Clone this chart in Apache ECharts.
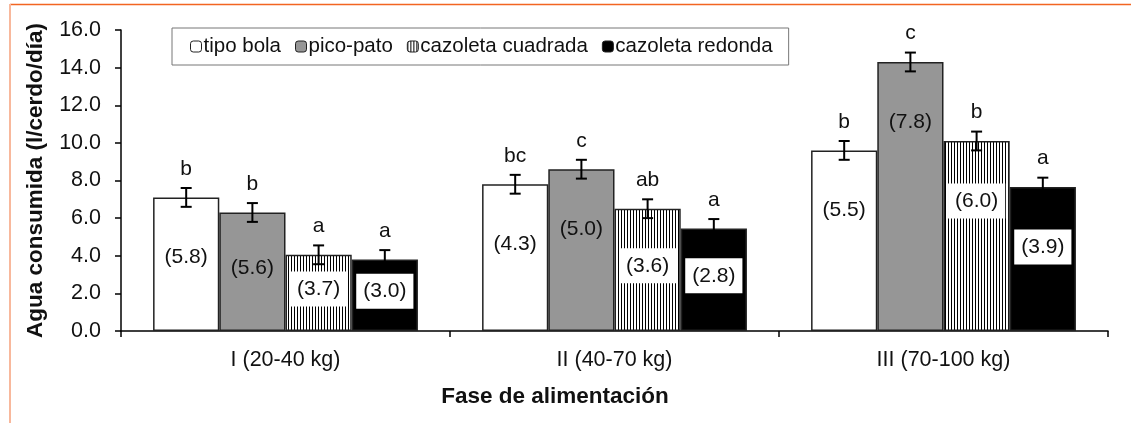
<!DOCTYPE html>
<html>
<head>
<meta charset="utf-8">
<script src="https://cdn.jsdelivr.net/npm/echarts@6/dist/echarts.min.js"></script>
<style>
html,body{margin:0;padding:0;background:#fff;}
#c{width:1131px;height:423px;}
</style>
</head>
<body>
<div id="c"></div>
<script>
// ---- data ----
const categories = ['I (20-40 kg)', 'II (40-70 kg)', 'III (70-100 kg)'];
const seriesNames = ['tipo bola', 'pico-pato', 'cazoleta cuadrada', 'cazoleta redonda'];
const tipoBola = [7.1, 7.8, 9.6];
const picoPato = [6.3, 8.6, 14.3];
const cazCuadrada = [4.05, 6.5, 10.1];
const cazRedonda = [3.8, 5.45, 7.65];
const errTipoBola = [0.5, 0.5, 0.5];
const errPicoPato = [0.5, 0.5, 0.5];
const errCazCuadrada = [0.5, 0.5, 0.5];
const errCazRedonda = [0.5, 0.5, 0.5];
const lettersTipoBola = ['b', 'bc', 'b'];
const lettersPicoPato = ['b', 'c', 'c'];
const lettersCazCuadrada = ['a', 'ab', 'b'];
const lettersCazRedonda = ['a', 'a', 'a'];
const innerTipoBola = ['(5.8)', '(4.3)', '(5.5)'];
const innerPicoPato = ['(5.6)', '(5.0)', '(7.8)'];
const innerCazCuadrada = ['(3.7)', '(3.6)', '(6.0)'];
const innerCazRedonda = ['(3.0)', '(2.8)', '(3.9)'];
const yTicks = { min: 0, max: 16, interval: 2 };

const values = [tipoBola, picoPato, cazCuadrada, cazRedonda];
const errs = [errTipoBola, errPicoPato, errCazCuadrada, errCazRedonda];
const letters = [lettersTipoBola, lettersPicoPato, lettersCazCuadrada, lettersCazRedonda];
const inners = [innerTipoBola, innerPicoPato, innerCazCuadrada, innerCazRedonda];

// ---- styles ----
const FONT = '"Liberation Sans", Arial, sans-serif';
const TXT = '#111';
const FS = 21;
const CAT_GAP = 0.195;

const hatch = document.createElement('canvas');
hatch.width = 3; hatch.height = 8;
(function () {
  const g = hatch.getContext('2d');
  g.fillStyle = '#fff'; g.fillRect(0, 0, 3, 8);
  g.fillStyle = '#000'; g.fillRect(0, 0, 1, 8);
})();

const fills = ['#ffffff', '#969696', { image: hatch, repeat: 'repeat' }, '#000000'];
const labelBg = [null, null, '#ffffff', '#ffffff'];

const barSeries = seriesNames.map((name, s) => ({
  name: name,
  type: 'bar',
  data: values[s],
  barGap: '0%',
  barCategoryGap: (CAT_GAP * 100) + '%',
  itemStyle: { color: fills[s], borderColor: '#222', borderWidth: 1.5 },
  emphasis: { disabled: true },
  z: 2
}));

const overlayData = [];
for (let s = 0; s < 4; s++) {
  for (let c = 0; c < categories.length; c++) {
    overlayData.push([c, s, values[s][c], errs[s][c]]);
  }
}

function renderOverlay(params, api) {
  const c = api.value(0), s = api.value(1), v = api.value(2), e = api.value(3);
  const catW = api.size([1, 0])[0];
  const barW = catW * (1 - CAT_GAP) / 4;
  const x = api.coord([c, 0])[0] + (s - 1.5) * barW;
  const yTop = api.coord([c, v])[1];
  const yBase = api.coord([c, 0])[1];
  const yeTop = api.coord([c, v + e])[1];
  const yeBot = api.coord([c, v - e])[1];
  const cap = 5.5;
  const h = yBase - yTop;
  const innerY = yTop + Math.min(60, h / 2 - 4);
  const bg = labelBg[s];
  return {
    type: 'group',
    children: [
      { type: 'line', shape: { x1: x, y1: yeTop, x2: x, y2: yeBot }, style: { stroke: '#000', lineWidth: 2 } },
      { type: 'line', shape: { x1: x - cap, y1: yeTop, x2: x + cap, y2: yeTop }, style: { stroke: '#000', lineWidth: 2 } },
      { type: 'line', shape: { x1: x - cap, y1: yeBot, x2: x + cap, y2: yeBot }, style: { stroke: '#000', lineWidth: 2 } },
      { type: 'text', x: x, y: yeTop - 19,
        style: { text: letters[s][c], fill: TXT, font: FS + 'px ' + FONT, align: 'center', verticalAlign: 'middle' } },
      { type: 'text', x: x, y: innerY,
        style: Object.assign({ text: inners[s][c], fill: TXT, font: FS + 'px ' + FONT, align: 'center', verticalAlign: 'middle' },
          bg ? { backgroundColor: bg, padding: [7, 7] } : {}) }
    ]
  };
}

const chart = echarts.init(document.getElementById('c'), null, { renderer: 'canvas' });
chart.setOption({
  animation: false,
  backgroundColor: '#fff',
  grid: { left: 121, right: 23, top: 30, bottom: 92, containLabel: false },
  legend: {
    data: seriesNames,
    left: 172, top: 28,
    padding: [8, 16, 8, 18],
    itemWidth: 11, itemHeight: 11, itemGap: 14,
    borderColor: '#777', borderWidth: 1,
    selectedMode: false,
    textStyle: { fontFamily: FONT, fontSize: 20.5, color: TXT, padding: [0, 0, 0, -3] },
    itemStyle: { borderColor: '#222', borderWidth: 1 }
  },
  xAxis: {
    type: 'category',
    data: categories,
    axisLine: { lineStyle: { color: '#000', width: 1.5 } },
    axisTick: { show: true, length: 6, lineStyle: { color: '#000', width: 1.5 } },
    axisLabel: { fontFamily: FONT, fontSize: 21.5, color: TXT, margin: 18 },
    splitLine: { show: false }
  },
  yAxis: {
    type: 'value',
    min: yTicks.min, max: yTicks.max, interval: yTicks.interval,
    name: 'Agua consumida (l/cerdo/día)',
    nameLocation: 'middle',
    nameGap: 74,
    nameTextStyle: { fontFamily: FONT, fontSize: 22.5, fontWeight: 'bold', color: TXT },
    axisLine: { show: true, lineStyle: { color: '#000', width: 1.5 } },
    axisTick: { show: true, length: 6, lineStyle: { color: '#000', width: 1.5 } },
    axisLabel: { fontFamily: FONT, fontSize: 21.5, color: TXT, margin: 20, formatter: v => v.toFixed(1) },
    splitLine: { show: false }
  },
  graphic: [
    { type: 'line', shape: { x1: 10, y1: 4.5, x2: 1131, y2: 4.5 }, style: { stroke: '#F26522', lineWidth: 1.5 }, z: 100 },
    { type: 'line', shape: { x1: 10, y1: 4, x2: 10, y2: 423 }, style: { stroke: '#F8B89C', lineWidth: 2 }, z: 100 },
    { type: 'text', x: 555, y: 397, style: { text: 'Fase de alimentación', font: 'bold 22.5px ' + FONT, fill: TXT, align: 'center', verticalAlign: 'middle' } }
  ],
  series: barSeries.concat([{
    type: 'custom',
    renderItem: renderOverlay,
    data: overlayData,
    encode: { x: 0, y: 2 },
    z: 5,
    silent: true
  }])
});
</script>
</body>
</html>
